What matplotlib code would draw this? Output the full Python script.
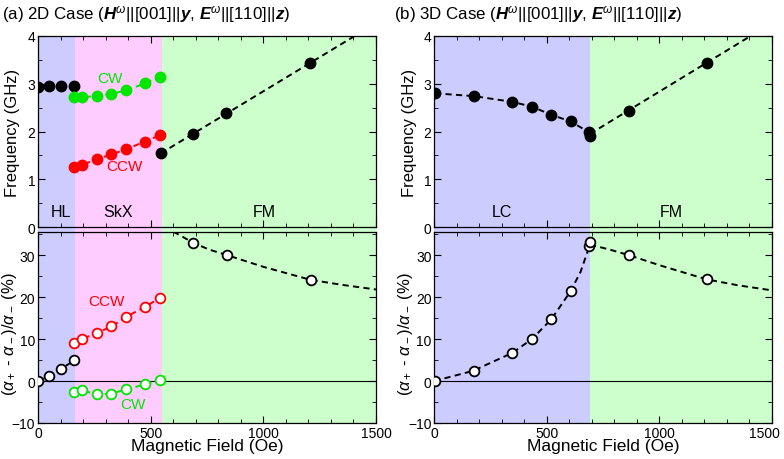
import numpy as np
import matplotlib
matplotlib.use("Agg")
import matplotlib.pyplot as plt
import matplotlib.transforms as mtransforms
from matplotlib.ticker import MultipleLocator

plt.rcParams["font.family"] = ["Liberation Sans", "DejaVu Sans"]
plt.rcParams["mathtext.fontset"] = "custom"
plt.rcParams["mathtext.rm"] = "Liberation Sans"
plt.rcParams["mathtext.it"] = "Liberation Sans:italic"
plt.rcParams["mathtext.bf"] = "Liberation Sans:bold"
plt.rcParams["mathtext.bfit"] = "Liberation Sans:bold:italic"

# ---- panel (a): 2D case ----
a_hl_field = [0, 48, 102, 161]
a_hl_freq = [2.94, 2.95, 2.96, 2.96]
a_hl_ratio = [0.0, 1.3, 2.9, 4.9]

a_skx_field = [160, 195, 260, 326, 392, 475, 540]
a_cw_freq = [2.72, 2.72, 2.74, 2.79, 2.86, 3.01, 3.15]
a_ccw_freq = [1.26, 1.30, 1.42, 1.52, 1.63, 1.79, 1.92]
a_cw_ratio = [-2.6, -2.2, -3.2, -3.0, -2.0, -0.8, 0.3]
a_ccw_ratio = [9.1, 10.0, 11.4, 13.0, 15.3, 17.7, 19.7]

a_fm_field = [544, 689, 836, 1207]
a_fm_freq = [1.54, 1.94, 2.38, 3.43]
a_fm_ratio_field = [690, 838, 1210]
a_fm_ratio = [32.9, 30.0, 24.1]

# dashed guide curves
a_fm_fit_field = [544, 1500]
a_fm_fit_freq = [1.54, 4.27]
a_ratio_fit_field = [600, 690, 760, 838, 1000, 1210, 1350, 1500]
a_ratio_fit = [35.6, 32.9, 31.3, 30.0, 27.2, 24.1, 22.9, 21.8]

a_regions = [(0, 163, "#ccccff", "HL", 100),
             (163, 550, "#ffccff", "SkX", 356),
             (550, 1500, "#ccffcc", "FM", 1006)]

# ---- panel (b): 3D case ----
b_lc_field = [3, 178, 347, 434, 520, 606, 689, 692]
b_lc_freq = [2.80, 2.74, 2.62, 2.52, 2.35, 2.21, 1.98, 1.91]
b_lc_ratio = [0.0, 2.4, 6.7, 10.0, 14.7, 21.4, 32.1, 33.0]
b_fm_field = [864, 1211]
b_fm_freq = [2.43, 3.43]
b_fm_ratio = [30.0, 24.2]

b_lc_fit_field = [0, 171, 347, 434, 520, 606, 650, 692]
b_lc_fit = [0.0, 2.4, 6.7, 10.0, 14.7, 21.4, 26.0, 32.5]
b_fm_fit_field = [692, 1500]
b_fm_fit_freq = [1.95, 4.27]
b_ratio_fit_field = [692, 780, 864, 1000, 1211, 1350, 1500]
b_ratio_fit = [32.5, 31.3, 30.0, 27.6, 24.2, 22.8, 21.6]

b_regions = [(0, 692, "#ccccff", "LC", 302),
             (692, 1500, "#ccffcc", "FM", 1055)]

CW = "#00e600"
CCW = "#ff0000"
DASH = (0, (3.2, 2.2))

fig = plt.figure(figsize=(7.84, 4.6), dpi=100)
ax_at = fig.add_axes([0.0485, 0.5043, 0.4311, 0.4153])
ax_ab = fig.add_axes([0.0485, 0.0783, 0.4311, 0.4152])
ax_bt = fig.add_axes([0.554, 0.5043, 0.4304, 0.4153])
ax_bb = fig.add_axes([0.554, 0.0783, 0.4304, 0.4152])


def style(ax, top, label_x):
    ax.set_xlim(0, 1500)
    ax.xaxis.set_major_locator(MultipleLocator(500))
    ax.xaxis.set_minor_locator(MultipleLocator(100))
    if top:
        ax.set_ylim(0, 4)
        ax.yaxis.set_major_locator(MultipleLocator(1))
        ax.yaxis.set_minor_locator(MultipleLocator(0.5))
        ax.set_ylabel("Frequency (GHz)", fontsize=12)
        ax.tick_params(labelbottom=False)
        ax.yaxis.set_label_coords(label_x, 0.5)
    else:
        ax.set_ylim(-10, 35.5)
        ax.yaxis.set_major_locator(MultipleLocator(10))
        ax.yaxis.set_minor_locator(MultipleLocator(5))
        ax.set_ylabel(r"($\alpha_+$ - $\alpha_-$)/$\alpha_-$ (%)", fontsize=12)
        ax.set_xlabel("Magnetic Field (Oe)", fontsize=12.5, labelpad=-1)
        ax.axhline(0, color="black", lw=0.8, zorder=1)
        ax.yaxis.set_label_coords(label_x, 0.47)
    ax.tick_params(which="both", direction="in", top=True, right=True,
                   labelsize=10, pad=2)
    ax.tick_params(which="major", length=5)
    ax.tick_params(which="minor", length=3)
    for s in ax.spines.values():
        s.set_linewidth(0.9)


def shade(ax, regions, top):
    for x0, x1, c, name, xl in regions:
        if top:
            ax.axvspan(x0, x1, ymin=-0.03, ymax=1, color=c, lw=0, zorder=0, clip_on=False)
            ax.text(xl, 0.33, name, ha="center", va="center", fontsize=11.5)
        else:
            ax.axvspan(x0, x1, color=c, lw=0, zorder=0)


def filled(ax, x, y, c):
    ax.plot(x, y, ls=DASH, color=c, lw=1.4, marker="o", ms=7.5, mfc=c, mec=c, zorder=3)


def opened(ax, x, y, c, line=True):
    ax.plot(x, y, ls=DASH if line else "none", color=c, lw=1.4, marker="o", ms=7,
            mfc="white", mec=c, mew=1.3, zorder=3)


# panel (a) top
shade(ax_at, a_regions, True)
filled(ax_at, a_hl_field, a_hl_freq, "black")
filled(ax_at, a_skx_field, a_cw_freq, CW)
filled(ax_at, a_skx_field, a_ccw_freq, CCW)
ax_at.plot(a_fm_fit_field, a_fm_fit_freq, ls=DASH, color="black", lw=1.4, zorder=2)
ax_at.plot(a_fm_field, a_fm_freq, "o", color="black", ms=7.5, zorder=3)
ax_at.text(318, 3.12, "CW", color=CW, ha="center", va="center", fontsize=11)
ax_at.text(385, 1.28, "CCW", color=CCW, ha="center", va="center", fontsize=11)
style(ax_at, True, -0.053)

# panel (a) bottom
shade(ax_ab, a_regions, False)
opened(ax_ab, a_hl_field, a_hl_ratio, "black")
opened(ax_ab, a_skx_field, a_ccw_ratio, CCW)
opened(ax_ab, a_skx_field, a_cw_ratio, CW)
ax_ab.plot(a_ratio_fit_field, a_ratio_fit, ls=DASH, color="black", lw=1.4, zorder=2)
opened(ax_ab, a_fm_ratio_field, a_fm_ratio, "black", line=False)
ax_ab.text(303, 19.0, "CCW", color=CCW, ha="center", va="center", fontsize=11)
ax_ab.text(422, -5.4, "CW", color=CW, ha="center", va="center", fontsize=11)
style(ax_ab, False, -0.056)

# panel (b) top
shade(ax_bt, b_regions, True)
filled(ax_bt, b_lc_field, b_lc_freq, "black")
ax_bt.plot(b_fm_fit_field, b_fm_fit_freq, ls=DASH, color="black", lw=1.4, zorder=2)
ax_bt.plot(b_fm_field, b_fm_freq, "o", color="black", ms=7.5, zorder=3)
style(ax_bt, True, -0.05)

# panel (b) bottom
shade(ax_bb, b_regions, False)
ax_bb.plot(b_lc_fit_field, b_lc_fit, ls=DASH, color="black", lw=1.4, zorder=2)
ax_bb.plot(b_ratio_fit_field, b_ratio_fit, ls=DASH, color="black", lw=1.4, zorder=2)
opened(ax_bb, b_lc_field, b_lc_ratio, "black", line=False)
opened(ax_bb, b_fm_field, b_fm_ratio, "black", line=False)
style(ax_bb, False, -0.057)

fig.text(0.002, 0.99, r"(a) 2D Case ($\mathbfit{H}^{\omega}$||[001]||$\mathbfit{y}$, "
         r"$\mathbfit{E}^{\omega}$||[110]||$\mathbfit{z}$)", ha="left", va="top", fontsize=12.2)
fig.text(0.502, 0.99, r"(b) 3D Case ($\mathbfit{H}^{\omega}$||[001]||$\mathbfit{y}$, "
         r"$\mathbfit{E}^{\omega}$||[110]||$\mathbfit{z}$)", ha="left", va="top", fontsize=12.2)

# nudge the right-most "1500" label a little left so it stays inside the figure
fig.canvas.draw()
shift = mtransforms.ScaledTranslation(-5 / 72, 0, fig.dpi_scale_trans)
for tick in ax_bb.xaxis.get_major_ticks():
    if tick.label1.get_text() == "1500":
        tick.label1.set_transform(tick.label1.get_transform() + shift)

fig.savefig("out.png", dpi=100)
